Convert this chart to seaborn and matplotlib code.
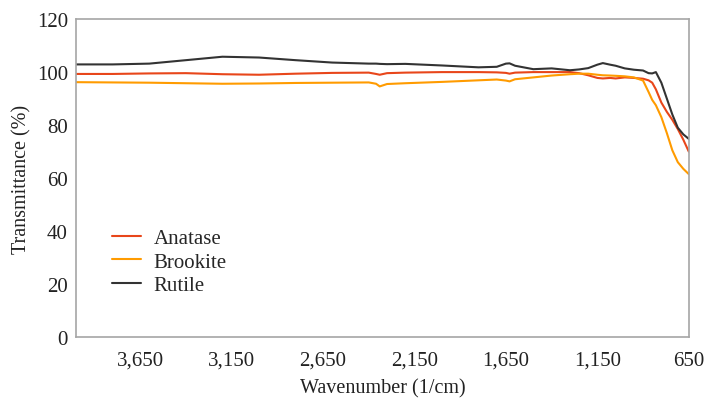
import pandas as pd
import matplotlib.pyplot as plt
import seaborn as sns
from matplotlib.ticker import FuncFormatter

# wavenumber grid (1/cm)
wavenumber = [4000, 3800, 3600, 3400, 3200, 3000, 2800, 2600, 2400, 2360,
              2340, 2300, 2200, 2000, 1800, 1700, 1650, 1630, 1600, 1500,
              1400, 1300, 1250, 1200, 1150, 1120, 1080, 1050, 1000, 950,
              900, 870, 850, 830, 800, 770, 740, 710, 680, 650]

anatase = [99.3, 99.3, 99.5, 99.6, 99.2, 99.0, 99.4, 99.7, 99.8, 99.3,
           99.0, 99.6, 99.8, 100.0, 100.0, 99.9, 99.7, 99.4, 99.8, 100.0,
           100.0, 100.0, 99.6, 98.8, 97.8, 97.6, 97.8, 97.6, 98.0, 97.8,
           97.5, 96.9, 96.0, 93.5, 88.5, 85.0, 82.0, 78.5, 74.5, 70.0]

brookite = [96.2, 96.1, 96.0, 95.8, 95.6, 95.7, 95.9, 96.0, 96.1, 95.6,
            94.6, 95.5, 95.8, 96.3, 96.9, 97.2, 96.8, 96.5, 97.3, 98.0,
            98.7, 99.2, 99.4, 99.4, 99.0, 98.8, 98.7, 98.6, 98.4, 98.0,
            96.8, 92.5, 89.5, 87.5, 83.0, 77.0, 70.5, 66.0, 63.5, 61.5]

rutile = [102.9, 102.9, 103.2, 104.5, 105.8, 105.5, 104.5, 103.6, 103.2, 103.2,
          103.1, 103.0, 103.1, 102.5, 101.8, 102.0, 103.2, 103.3, 102.4, 101.1,
          101.4, 100.7, 101.0, 101.5, 102.8, 103.4, 102.8, 102.4, 101.4, 100.9,
          100.6, 99.6, 99.5, 100.0, 96.0, 90.0, 84.0, 79.0, 76.5, 74.8]

series_names = ['Anatase', 'Brookite', 'Rutile']
series_colors = ['#E8461A', '#FF9B00', '#333333']
x_ticks = [3650, 3150, 2650, 2150, 1650, 1150, 650]
y_ticks = [0, 20, 40, 60, 80, 100, 120]


def build_frame():
    frames = []
    for name, vals in zip(series_names, [anatase, brookite, rutile]):
        frames.append(pd.DataFrame({'wavenumber': wavenumber,
                                    'transmittance': vals,
                                    'sample': name}))
    return pd.concat(frames, ignore_index=True)


def main():
    df = build_frame()

    sns.set_theme(style='white')
    plt.rcParams['font.family'] = ['Liberation Serif', 'DejaVu Serif']

    fig = plt.figure(figsize=(7.05, 4.02), dpi=100)
    ax = fig.add_axes([0.108, 0.159, 0.869, 0.791])

    sns.lineplot(data=df, x='wavenumber', y='transmittance', hue='sample',
                 palette=dict(zip(series_names, series_colors)),
                 linewidth=1.5, ax=ax, sort=False)

    ax.set_xlim(4000, 650)
    ax.set_ylim(0, 120)
    ax.set_xticks(x_ticks)
    ax.set_yticks(y_ticks)
    ax.xaxis.set_major_formatter(FuncFormatter(lambda v, p: f'{int(v):,}'))
    ax.tick_params(axis='both', length=0, labelsize=15, colors='#222222')
    ax.tick_params(axis='x', pad=10)
    ax.tick_params(axis='y', pad=6)

    ax.set_xlabel('Wavenumber (1/cm)', fontsize=14.5, color='#222222', labelpad=6)
    ax.set_ylabel('Transmittance (%)', fontsize=14.5, color='#222222', labelpad=4)

    for side in ['left', 'right', 'top', 'bottom']:
        ax.spines[side].set_visible(True)
        ax.spines[side].set_color('#A6A6A6')
        ax.spines[side].set_linewidth(1.2)

    ax.legend(title=None, loc='upper left', bbox_to_anchor=(0.058, 0.342),
              frameon=False, fontsize=15, handlelength=1.4,
              handletextpad=0.6, labelspacing=0.2, borderpad=0,
              borderaxespad=0)

    fig.savefig('out.png', dpi=100)
    plt.close(fig)


if __name__ == '__main__':
    main()
